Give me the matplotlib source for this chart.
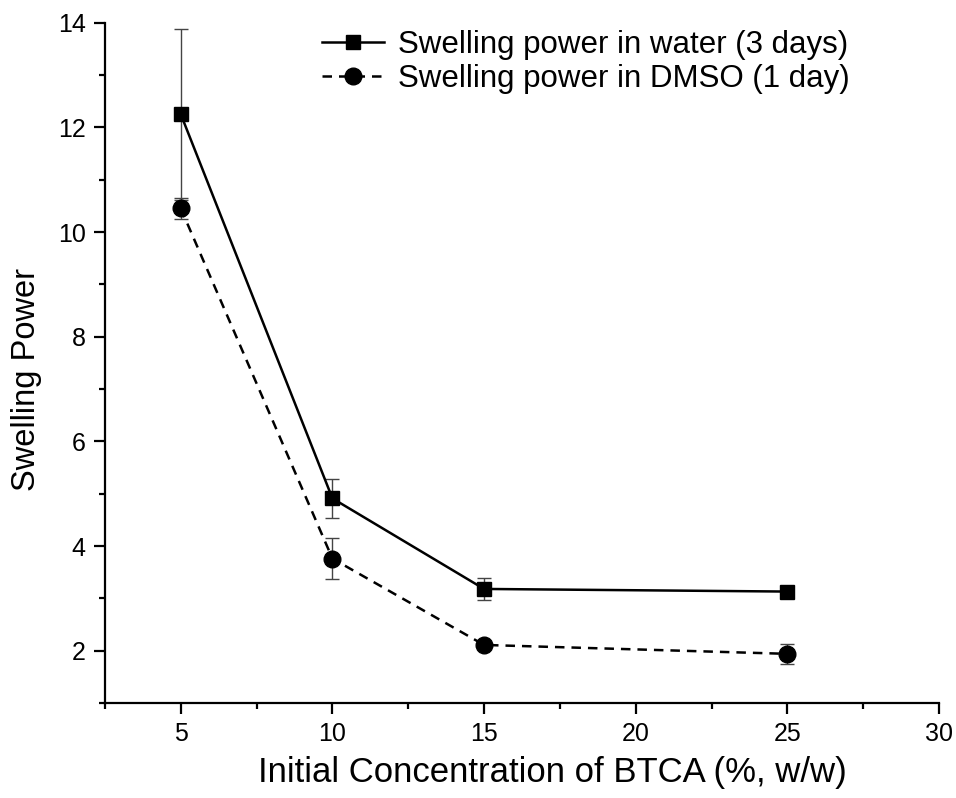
import numpy as np
import matplotlib.pyplot as plt
from matplotlib.ticker import MultipleLocator

plt.rcParams['font.family'] = ['Liberation Sans', 'DejaVu Sans']

conc = [5, 10, 15, 25]
water = [12.25, 4.91, 3.18, 3.13]
water_err = [1.63, 0.37, 0.21, 0.09]
dmso = [10.45, 3.76, 2.11, 1.94]
dmso_err = [0.20, 0.39, 0.06, 0.19]

fig = plt.figure(figsize=(9.56, 7.98), dpi=100)
ax = fig.add_axes([0.1098, 0.119, 0.8724, 0.8526])

ax.errorbar(conc, water, yerr=water_err, color='black', ecolor='#444444', elinewidth=1.0,
            capsize=4.8, capthick=1.0, lw=1.8, marker='s', ms=10.5,
            label='Swelling power in water (3 days)')
ax.errorbar(conc, dmso, yerr=dmso_err, color='black', ecolor='#444444', elinewidth=1.0,
            capsize=4.8, capthick=1.0, lw=1.8, ls=(0, (3.8, 2.8)), marker='o', ms=12,
            label='Swelling power in DMSO (1 day)')

ax.set_xlim(2.5, 30)
ax.set_ylim(1, 14)
ax.xaxis.set_major_locator(MultipleLocator(5))
ax.xaxis.set_minor_locator(MultipleLocator(2.5))
ax.yaxis.set_major_locator(MultipleLocator(2))
ax.yaxis.set_minor_locator(MultipleLocator(1))

for s in ['top', 'right']:
    ax.spines[s].set_visible(False)
for s in ['left', 'bottom']:
    ax.spines[s].set_linewidth(1.6)
ax.tick_params(which='major', direction='out', length=8, width=1.6, labelsize=18, pad=6)
ax.tick_params(which='minor', direction='out', length=4, width=1.6)

ax.set_xlabel('Initial Concentration of BTCA (%, w/w)', fontsize=25)
ax.set_ylabel('Swelling Power', fontsize=23.5)
ax.xaxis.set_label_coords(0.537, -0.078)
ax.yaxis.set_label_coords(-0.076, 0.475)

handles, labels = ax.get_legend_handles_labels()
handles = [h[0] for h in handles]
ax.legend(handles, labels, loc='upper left', bbox_to_anchor=(0.245, 1.007), frameon=False,
          borderaxespad=0, fontsize=22.5, handlelength=2.0, handletextpad=0.45,
          labelspacing=0.12)

fig.savefig('out.png', dpi=100)
